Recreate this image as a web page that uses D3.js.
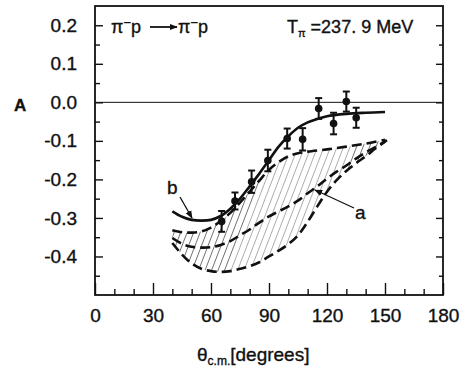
<!DOCTYPE html>
<html>
<head>
<meta charset="utf-8">
<script src="https://cdn.jsdelivr.net/npm/d3@7"></script>
<style>
  body { margin: 0; background: #fff; }
  text { font-family: "Liberation Sans", "DejaVu Sans", sans-serif; fill: #111; stroke: #111; stroke-width: 0.35px; }
</style>
</head>
<body>
<div id="chart"></div>
<script>
const width = 465;
const height = 369;

// measured data points: angle, asymmetry, error
const theta = [65.5, 72.4, 81, 89.4, 99.4, 107.4, 115.7, 123.4, 130, 135.1];
const asym = [-0.309, -0.256, -0.206, -0.151, -0.094, -0.096, -0.016, -0.055, 0.002, -0.040];
const err = [0.027, 0.022, 0.029, 0.028, 0.026, 0.029, 0.027, 0.028, 0.026, 0.026];

// curve b (solid)
const curveB = [[40, -0.283], [45, -0.297], [50, -0.305], [55, -0.307], [60, -0.305], [65, -0.295],
	[70, -0.276], [75, -0.25], [80, -0.218], [85, -0.185], [90, -0.15], [95, -0.115], [100, -0.088],
	[105, -0.066], [110, -0.052], [115, -0.043], [120, -0.036], [130, -0.03], [140, -0.027], [150, -0.025]];

// upper edge of band (dashed)
const bandTop = [[40, -0.332], [45, -0.337], [50, -0.338], [55, -0.335], [60, -0.325], [65, -0.308],
	[70, -0.287], [75, -0.26], [80, -0.232], [85, -0.203], [90, -0.175], [95, -0.155], [100, -0.14],
	[105, -0.132], [110, -0.128], [120, -0.122], [130, -0.115], [140, -0.107], [150, -0.097]];

// curve a (dashed, middle)
const curveA = [[40, -0.352], [45, -0.367], [50, -0.375], [55, -0.377], [60, -0.376], [65, -0.370],
	[70, -0.360], [75, -0.345], [80, -0.33], [85, -0.312], [90, -0.296], [95, -0.283], [100, -0.27],
	[105, -0.255], [110, -0.236], [115, -0.218], [120, -0.198], [125, -0.18], [130, -0.164],
	[135, -0.146], [140, -0.13], [145, -0.116], [150, -0.102]];

// lower edge of band (dashed)
const bandBottom = [[40, -0.365], [45, -0.395], [50, -0.418], [55, -0.432], [60, -0.438], [65, -0.44],
	[70, -0.438], [75, -0.432], [80, -0.425], [85, -0.415], [90, -0.40], [95, -0.385], [100, -0.368],
	[105, -0.345], [110, -0.31], [115, -0.27], [120, -0.232], [125, -0.202], [130, -0.178],
	[135, -0.158], [140, -0.14], [145, -0.12], [151, -0.098]];

const xTicks = [0, 30, 60, 90, 120, 150, 180];
const yTicks = [0.2, 0.1, 0.0, -0.1, -0.2, -0.3, -0.4];

const x = d3.scaleLinear().domain([0, 180]).range([95, 443]);
const y = d3.scaleLinear().domain([-0.5, 0.25]).range([295, 6]);

const svg = d3.select("#chart")
	.append("svg")
	.attr("width", width)
	.attr("height", height);

const defs = svg.append("defs");
defs.append("marker")
	.attr("id", "arrow")
	.attr("viewBox", "0 0 10 10")
	.attr("refX", 9)
	.attr("refY", 5)
	.attr("markerWidth", 8)
	.attr("markerHeight", 8)
	.attr("markerUnits", "userSpaceOnUse")
	.attr("orient", "auto")
	.append("path")
	.attr("d", "M0,1 L10,5 L0,9 z")
	.attr("fill", "#111");

const line = d3.line()
	.x(function (d) { return x(d[0]); })
	.y(function (d) { return y(d[1]); })
	.curve(d3.curveCatmullRom);

// hatched band between the two outer dashed curves
defs.append("clipPath")
	.attr("id", "band")
	.append("path")
	.attr("d", line(bandTop) + "L" + line(bandBottom.slice().reverse()).slice(1) + "Z");

const hatch = svg.append("g").attr("clip-path", "url(#band)");
for (let hx = 100; hx < 450; hx += 6.5) {
	hatch.append("line")
		.attr("x1", hx)
		.attr("y1", 290)
		.attr("x2", hx + 170 / 2.6)
		.attr("y2", 120)
		.attr("stroke", hx > 220 && hx < 300 ? "#888" : "#333")
		.attr("stroke-width", 0.7);
}

// zero line
svg.append("line")
	.attr("x1", x(0)).attr("x2", x(180))
	.attr("y1", y(0)).attr("y2", y(0))
	.attr("stroke", "#111")
	.attr("stroke-width", 1);

// axes
const yMinor = d3.range(-0.45, 0.25, 0.1);
const xMinor = d3.range(0, 181, 10).filter(function (v) { return v % 30 !== 0; });

svg.append("g")
	.attr("transform", "translate(" + x(0) + ",0)")
	.call(d3.axisLeft(y).tickValues(yTicks).tickSize(-8).tickPadding(18)
		.tickFormat(function (d) { return d3.format(".1f")(d).replace("−", "-"); }))
	.call(function (g) {
		g.select(".domain").remove();
		g.selectAll("text").style("font-size", "19px").attr("fill", "#111")
			.attr("font-family", "Liberation Sans, sans-serif");
	});

svg.append("g")
	.attr("transform", "translate(" + x(0) + ",0)")
	.call(d3.axisLeft(y).tickValues(yMinor).tickSize(-5).tickFormat(""))
	.call(function (g) { g.select(".domain").remove(); });

svg.append("g")
	.attr("transform", "translate(" + x(180) + ",0)")
	.call(d3.axisRight(y).tickValues(yTicks).tickSize(-7).tickFormat(""))
	.call(function (g) { g.select(".domain").remove(); });

svg.append("g")
	.attr("transform", "translate(" + x(180) + ",0)")
	.call(d3.axisRight(y).tickValues(yMinor).tickSize(-4).tickFormat(""))
	.call(function (g) { g.select(".domain").remove(); });

svg.append("g")
	.attr("transform", "translate(0," + y(-0.5) + ")")
	.call(d3.axisBottom(x).tickValues(xTicks).tickSize(-12).tickPadding(10))
	.call(function (g) {
		g.select(".domain").remove();
		g.selectAll("text").style("font-size", "19px").attr("fill", "#111")
			.attr("font-family", "Liberation Sans, sans-serif").attr("dy", "0.9em");
	});

svg.append("g")
	.attr("transform", "translate(0," + y(-0.5) + ")")
	.call(d3.axisBottom(x).tickValues(xMinor).tickSize(-6).tickFormat(""))
	.call(function (g) { g.select(".domain").remove(); });

svg.selectAll(".tick line").attr("stroke", "#111").attr("stroke-width", 1.4);

// frame
svg.append("rect")
	.attr("x", x(0)).attr("y", y(0.25))
	.attr("width", x(180) - x(0))
	.attr("height", y(-0.5) - y(0.25))
	.attr("fill", "none")
	.attr("stroke", "#111")
	.attr("stroke-width", 1.8);

// dashed curves
[bandTop, curveA, bandBottom].forEach(function (c) {
	svg.append("path")
		.attr("d", line(c))
		.attr("fill", "none")
		.attr("stroke", "#111")
		.attr("stroke-width", 2.6)
		.attr("stroke-dasharray", "10,5");
});

// solid curve b
svg.append("path")
	.attr("d", line(curveB))
	.attr("fill", "none")
	.attr("stroke", "#111")
	.attr("stroke-width", 2.6);

// error bars and points
const pts = svg.append("g");
theta.forEach(function (t, i) {
	const cx = x(t);
	pts.append("line")
		.attr("x1", cx).attr("x2", cx)
		.attr("y1", y(asym[i] - err[i])).attr("y2", y(asym[i] + err[i]))
		.attr("stroke", "#111").attr("stroke-width", 2);
	[asym[i] - err[i], asym[i] + err[i]].forEach(function (v) {
		pts.append("line")
			.attr("x1", cx - 3.5).attr("x2", cx + 3.5)
			.attr("y1", y(v)).attr("y2", y(v))
			.attr("stroke", "#111").attr("stroke-width", 2);
	});
	pts.append("circle")
		.attr("cx", cx).attr("cy", y(asym[i]))
		.attr("r", 3.8)
		.attr("fill", "#111");
});

// curve labels with arrows
svg.append("text").attr("x", 167).attr("y", 194).style("font-size", "19px").text("b");
svg.append("line")
	.attr("x1", 180).attr("y1", 197).attr("x2", 192).attr("y2", 218)
	.attr("stroke", "#111").attr("stroke-width", 1.3).attr("marker-end", "url(#arrow)");

svg.append("text").attr("x", 355).attr("y", 219).style("font-size", "19px").text("a");
svg.append("line")
	.attr("x1", 354).attr("y1", 208).attr("x2", 315).attr("y2", 190)
	.attr("stroke", "#111").attr("stroke-width", 1.3).attr("marker-end", "url(#arrow)");

// reaction label
const r1 = svg.append("text").attr("x", 111).attr("y", 33).style("font-size", "18px");
r1.append("tspan").text("π");
r1.append("tspan").attr("dy", -6).style("font-size", "13px").text("−");
r1.append("tspan").attr("dy", 6).text("p");
svg.append("line")
	.attr("x1", 150).attr("y1", 27).attr("x2", 177).attr("y2", 27)
	.attr("stroke", "#111").attr("stroke-width", 1.8).attr("marker-end", "url(#arrow)");
const r2 = svg.append("text").attr("x", 178).attr("y", 33).style("font-size", "18px");
r2.append("tspan").text("π");
r2.append("tspan").attr("dy", -6).style("font-size", "13px").text("−");
r2.append("tspan").attr("dy", 6).text("p");

// energy label
const en = svg.append("text").attr("x", 287).attr("y", 33).style("font-size", "18px");
en.append("tspan").text("T");
en.append("tspan").attr("dy", 4).style("font-size", "11px").text("π");
en.append("tspan").attr("dy", -4).attr("dx", 5).text("=237. 9 MeV");

// axis titles
svg.append("text").attr("x", 14).attr("y", 111)
	.style("font-size", "17px").style("font-weight", "bold").text("A");

const xt = svg.append("text").attr("x", 197).attr("y", 361).style("font-size", "19px");
xt.append("tspan").text("θ");
xt.append("tspan").attr("dy", 4).style("font-size", "12px").text("c.m.");
xt.append("tspan").attr("dy", -4).text("[degrees]");
</script>
</body>
</html>
